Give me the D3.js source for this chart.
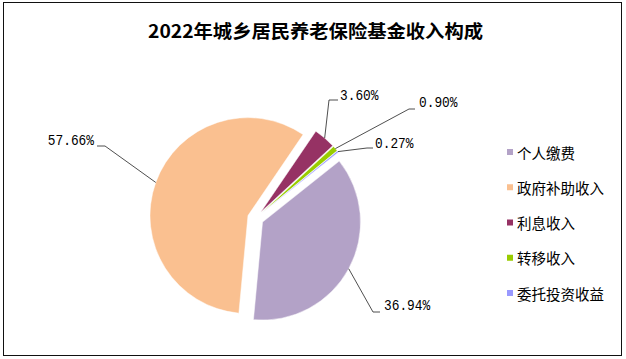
<!DOCTYPE html>
<html>
<head>
<meta charset="utf-8">
<script src="https://cdn.jsdelivr.net/npm/d3@7"></script>
<style>
  html, body { margin: 0; padding: 0; background: #fff; }
  svg { display: block; }
</style>
</head>
<body>
<svg id="chart" width="626" height="359"></svg>
<script>
// ---- data ----
const title = "2022年城乡居民养老保险基金收入构成";
const categories = ["个人缴费", "政府补助收入", "利息收入", "转移收入", "委托投资收益"];
const values = [36.94, 57.66, 3.60, 0.90, 0.27];
const valueLabels = ["36.94%", "57.66%", "3.60%", "0.90%", "0.27%"];
const colors = ["#B3A2C7", "#FAC090", "#963264", "#99CC00", "#9999FF"];

// ---- layout (not data) ----
const W = 626, H = 359;
const cx = 255.5, cy = 218.3, R = 98, explode = 8;
const startDeg = 51.5;
// leader elbow / end / text positions per slice
const labelLayout = [
  { elbow: [373, 312], end: [380, 312], text: [384, 306], anchor: "start" },
  { elbow: [105, 146], end: [97, 146], text: [94, 141], anchor: "end" },
  { elbow: [329, 100], end: [338, 100], text: [340, 96], anchor: "start" },
  { elbow: [409, 109], end: [415, 109], text: [419, 103], anchor: "start" },
  { elbow: [367, 148], end: [373, 148], text: [375, 144], anchor: "start" }
];

const svg = d3.select("#chart");
svg.append("rect").attr("x", 0).attr("y", 0).attr("width", W).attr("height", H).attr("fill", "#fff");
svg.append("rect").attr("x", 3.5).attr("y", 2.5).attr("width", 618).attr("height", 353)
  .attr("fill", "#fff").attr("stroke", "#111").attr("stroke-width", 1);

svg.append("text")
  .attr("x", 315.5).attr("y", 30)
  .attr("text-anchor", "middle").attr("dominant-baseline", "central")
  .attr("font-family", "'Noto Sans CJK SC', 'Noto Sans', sans-serif")
  .attr("font-weight", "bold").attr("font-size", 18)
  .attr("textLength", 335).attr("lengthAdjust", "spacingAndGlyphs")
  .attr("fill", "#000")
  .text(title);

const a0 = startDeg * Math.PI / 180;
const pie = d3.pie().sort(null).value(d => d).startAngle(a0).endAngle(a0 + 2 * Math.PI);
const arcs = pie(values);
const arc = d3.arc().innerRadius(0).outerRadius(R);

const g = svg.append("g");
arcs.forEach((a, i) => {
  const mid = (a.startAngle + a.endAngle) / 2;
  const ox = cx + explode * Math.sin(mid), oy = cy - explode * Math.cos(mid);
  g.append("path")
    .attr("d", arc(a))
    .attr("transform", `translate(${ox},${oy})`)
    .attr("fill", colors[i])
    .attr("stroke", "#fff").attr("stroke-width", 0.5);

  // leader line from arc mid-point
  const px = ox + R * Math.sin(mid), py = oy - R * Math.cos(mid);
  const L = labelLayout[i];
  svg.append("polyline")
    .attr("points", [[px, py], L.elbow, L.end].map(p => p.join(",")).join(" "))
    .attr("fill", "none").attr("stroke", "#222").attr("stroke-width", 0.8);
  svg.append("text")
    .attr("x", L.text[0]).attr("y", L.text[1])
    .attr("text-anchor", L.anchor).attr("dominant-baseline", "central")
    .attr("font-family", "'Liberation Mono', 'DejaVu Sans Mono', monospace")
    .attr("font-size", 14)
    .attr("textLength", valueLabels[i].length * 7.7).attr("lengthAdjust", "spacingAndGlyphs")
    .attr("fill", "#000")
    .text(valueLabels[i]);
});

// legend
const legY = d3.scalePoint().domain(categories).range([152, 293]);
const leg = svg.append("g");
categories.forEach((c, i) => {
  const y = legY(c);
  leg.append("rect").attr("x", 507).attr("y", y - 3).attr("width", 6).attr("height", 6).attr("fill", colors[i]);
  leg.append("text")
    .attr("x", 517).attr("y", y)
    .attr("dominant-baseline", "central")
    .attr("font-family", "'Noto Sans CJK SC', sans-serif")
    .attr("font-size", 14.5).attr("fill", "#000")
    .text(c);
});
</script>
</body>
</html>
